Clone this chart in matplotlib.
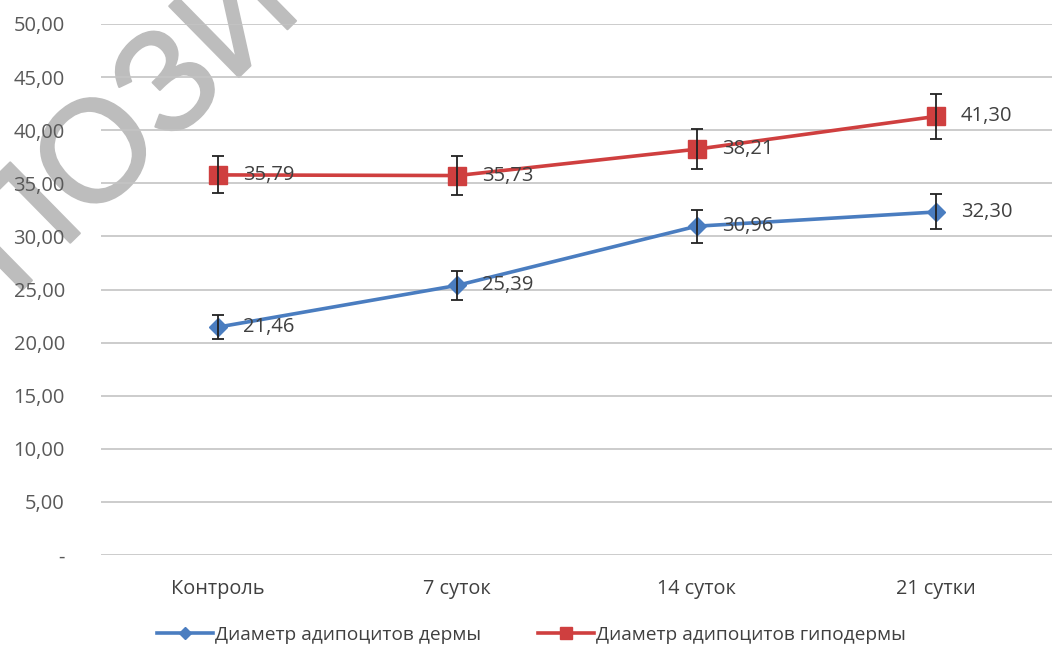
import matplotlib
matplotlib.use("Agg")
import matplotlib.pyplot as plt
import matplotlib.patheffects as pe
from matplotlib.lines import Line2D

# Data
categories = ["Контроль", "7 суток", "14 суток", "21 сутки"]
dermis = [21.46, 25.39, 30.96, 32.30]
dermis_err = [1.1, 1.35, 1.55, 1.65]
hypodermis = [35.79, 35.73, 38.21, 41.30]
hypodermis_err = [1.75, 1.8, 1.9, 2.1]
series_names = ["Диаметр адипоцитов дермы", "Диаметр адипоцитов гиподермы"]
y_ticks = [0, 5, 10, 15, 20, 25, 30, 35, 40, 45, 50]
y_tick_labels = ["-", "5,00", "10,00", "15,00", "20,00", "25,00", "30,00",
                 "35,00", "40,00", "45,00", "50,00"]

BLUE = "#4a7dc0"
RED = "#cf3f3f"
FONT = ["Open Sans", "DejaVu Sans"]

plt.rcParams["font.family"] = FONT

W, H = 1052, 648
fig = plt.figure(figsize=(W / 100, H / 100), dpi=100, facecolor="white")
ax = fig.add_axes([101 / W, 1 - 555 / H, 1 - 101 / W, (555 - 24) / H])
ax.patch.set_visible(False)

x = list(range(len(categories)))


def fmt(v):
    return f"{v:.2f}".replace(".", ",")


for vals, errs, color, marker, ms in [
    (dermis, dermis_err, BLUE, "D", 9),
    (hypodermis, hypodermis_err, RED, "s", 12.5),
]:
    ax.plot(x, vals, color=color, lw=2.6, marker=marker, ms=ms,
            markeredgecolor=color, zorder=3)
    ax.errorbar(x, vals, yerr=errs, fmt="none", ecolor="#222222",
                elinewidth=1.3, capsize=4, capthick=1.3, zorder=4)
    for xi, v in zip(x, vals):
        ax.annotate(fmt(v), (xi, v), xytext=(25, 0), textcoords="offset pixels",
                    ha="left", va="center", fontsize=14.5, color="#404040",
                    zorder=5)

ax.set_ylim(0, 50)
ax.set_xlim(-0.489, 3.485)
ax.set_yticks(y_ticks)
ax.set_yticklabels(y_tick_labels)
ax.set_xticks(x)
ax.set_xticklabels(categories)
ax.tick_params(axis="y", length=0, pad=26, labelsize=14.5, labelcolor="#595959")
ax.tick_params(axis="x", length=0, pad=17, labelsize=14.3, labelcolor="#404040")
ax.grid(axis="y", color="#c4c4c4", lw=1.2)
ax.set_axisbelow(True)
for s in ax.spines.values():
    s.set_visible(False)

handles = [
    Line2D([], [], color=BLUE, lw=2.6, marker="D", ms=6, markeredgecolor=BLUE),
    Line2D([], [], color=RED, lw=2.6, marker="s", ms=9, markeredgecolor=RED),
]
fig.legend(handles, series_names, loc="center", bbox_to_anchor=(0.505, 1 - 635 / H),
           ncol=2, frameon=False, fontsize=13.8, handlelength=2.9,
           handletextpad=0.1, columnspacing=3.0, labelcolor="#404040")

# Diagonal overlay lettering, drawn beneath the axes content
WM = "#bdbdbd"
fig.text(14 / W, 1 - 298 / H, "ПОЗИ", rotation=44.5, rotation_mode="anchor",
         ha="left", va="baseline", fontsize=104, color=WM,
         family=["Liberation Sans", "DejaVu Sans"], zorder=-1,
         path_effects=[pe.withStroke(linewidth=1.5, foreground=WM)])

fig.savefig("out.png", dpi=100, facecolor="white")
